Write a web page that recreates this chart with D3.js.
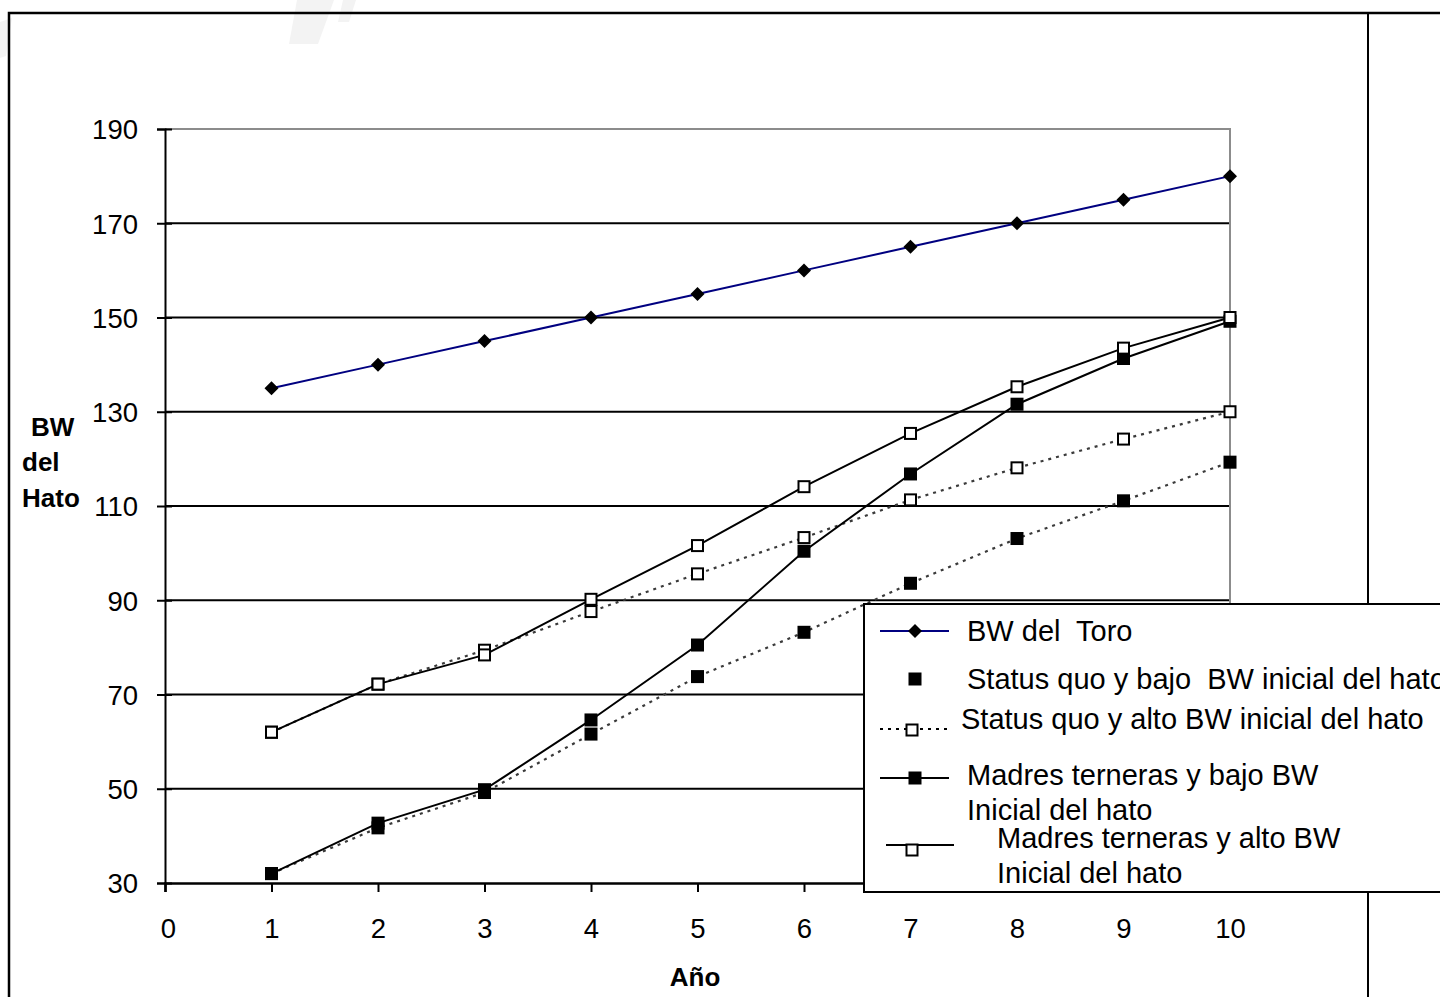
<!DOCTYPE html>
<html>
<head>
<meta charset="utf-8">
<script src="https://cdn.jsdelivr.net/npm/d3@7"></script>
<style>
  html, body { margin: 0; padding: 0; background: #fff; }
  svg text { font-family: "Liberation Sans", Arial, sans-serif; fill: #000; white-space: pre; }
</style>
</head>
<body>
<div id="chart"></div>
<script>
// data
const years = [1, 2, 3, 4, 5, 6, 7, 8, 9, 10];
const bwToro = [135, 140, 145, 150, 155, 160, 165, 170, 175, 180];
const sqBajo = [32, 41.7, 49.2, 61.6, 73.8, 83.2, 93.6, 103.1, 111.1, 119.3];
const sqAlto = [62, 72.2, 79.4, 87.6, 95.6, 103.3, 111.3, 118.1, 124.2, 130];
const madBajo = [32, 42.7, 49.8, 64.6, 80.5, 100.4, 116.8, 131.6, 141.3, 149.2];
const madAlto = [62, 72.2, 78.4, 90.2, 101.6, 114.1, 125.4, 135.3, 143.5, 150];
const xTicks = [0, 1, 2, 3, 4, 5, 6, 7, 8, 9, 10];
const yTicks = [30, 50, 70, 90, 110, 130, 150, 170, 190];
const gridValues = [50, 70, 90, 110, 130, 150, 170];

const series = [
    {name: 'Status quo y bajo  BW inicial del hato', values: sqBajo, marker: 'filled', line: 'dotted'},
    {name: 'Status quo y alto BW inicial del hato', values: sqAlto, marker: 'open', line: 'dotted'},
    {name: 'Madres terneras y bajo BW', values: madBajo, marker: 'filled', line: 'solid'},
    {name: 'Madres terneras y alto BW', values: madAlto, marker: 'open', line: 'solid'},
    {name: 'BW del  Toro', values: bwToro, marker: 'diamond', line: 'navy'}
];

const W = 1440, H = 997;
const plot = {left: 165, right: 1230, top: 129, bottom: 883};

const svg = d3.select('#chart').append('svg')
    .attr('width', W)
    .attr('height', H);

// faint watermark strokes
const wm = svg.append('g').attr('fill', '#f3f3f3');
wm.append('path').attr('d', 'M297,0 L334,0 L318,44 L289,44 Z');
wm.append('path').attr('d', 'M343,0 L356,0 L349,22 L338,22 Z');
wm.append('path').attr('d', 'M0,22 L12,18 L6,56 L0,58 Z');

// outer frame
svg.append('path')
    .attr('d', `M9,${H + 5} L9,13 L${W + 5},13`)
    .attr('fill', 'none')
    .attr('stroke', '#000')
    .attr('stroke-width', 2.5);
svg.append('line')
    .attr('x1', 1368).attr('x2', 1368)
    .attr('y1', 13).attr('y2', H)
    .attr('stroke', '#000')
    .attr('stroke-width', 2);

const x = d3.scaleLinear()
    .domain([0, 10])
    .range([plot.left, plot.right]);

const y = d3.scaleLinear()
    .domain([30, 190])
    .range([plot.bottom, plot.top]);

// grid
svg.append('g')
    .selectAll('line')
    .data(gridValues)
    .enter().append('line')
    .attr('x1', plot.left).attr('x2', plot.right)
    .attr('y1', d => y(d)).attr('y2', d => y(d))
    .attr('stroke', '#000')
    .attr('stroke-width', 2);

// gray plot border top/right
svg.append('path')
    .attr('d', `M${plot.left},${y(190)} L${x(10)},${y(190)} L${x(10)},${y(30)}`)
    .attr('fill', 'none')
    .attr('stroke', '#8c8c8c')
    .attr('stroke-width', 2);

// y axis
const yAxis = svg.append('g')
    .attr('transform', `translate(${plot.left},0)`)
    .call(d3.axisLeft(y).tickValues(yTicks).tickSize(8).tickPadding(19));
yAxis.select('.domain').attr('stroke', '#000').attr('stroke-width', 2);
yAxis.selectAll('.tick line').attr('stroke', '#000').attr('stroke-width', 2).attr('x2', 7).attr('x1', -8);
yAxis.selectAll('.tick text')
    .style('font-family', '"Liberation Sans", Arial, sans-serif')
    .style('font-size', '27.5px')
    .attr('dy', '0.36em');

// x axis
const xAxis = svg.append('g')
    .attr('transform', `translate(0,${plot.bottom})`)
    .call(d3.axisBottom(x).tickValues(xTicks).tickSize(9).tickPadding(26).tickFormat(d3.format('d')));
xAxis.select('.domain').attr('stroke', '#000').attr('stroke-width', 2.5);
xAxis.selectAll('.tick line').attr('stroke', '#000').attr('stroke-width', 2);
xAxis.selectAll('.tick text')
    .style('font-family', '"Liberation Sans", Arial, sans-serif')
    .style('font-size', '27.5px');
xAxis.selectAll('.tick').filter(d => d === 0).select('text').attr('x', 3);

// axis titles
svg.append('text')
    .attr('x', 695).attr('y', 986)
    .attr('text-anchor', 'middle')
    .style('font-size', '26px')
    .style('font-weight', 'bold')
    .text('Año');

const yTitle = svg.append('text')
    .style('font-size', '26px')
    .style('font-weight', 'bold');
yTitle.append('tspan').attr('x', 31).attr('y', 436).text('BW');
yTitle.append('tspan').attr('x', 22).attr('y', 471).text('del');
yTitle.append('tspan').attr('x', 22).attr('y', 507).text('Hato');

// series
const line = d3.line()
    .x((d, i) => x(years[i]))
    .y(d => y(d));

const lineStyle = {
    dotted: {stroke: '#3a3a3a', width: 2.2, dash: '3,5'},
    solid: {stroke: '#000', width: 2, dash: null},
    navy: {stroke: '#000080', width: 2, dash: null}
};

function drawMarker(g, kind, cx, cy) {
    if (kind === 'diamond') {
        g.append('path')
            .attr('d', `M${cx},${cy - 7} L${cx + 7},${cy} L${cx},${cy + 7} L${cx - 7},${cy} Z`)
            .attr('fill', '#000');
    } else if (kind === 'filled') {
        g.append('rect')
            .attr('x', cx - 6.5).attr('y', cy - 6.5)
            .attr('width', 13).attr('height', 13)
            .attr('fill', '#000');
    } else {
        g.append('rect')
            .attr('x', cx - 5.5).attr('y', cy - 5.5)
            .attr('width', 11).attr('height', 11)
            .attr('fill', '#fff')
            .attr('stroke', '#000')
            .attr('stroke-width', 2);
    }
}

series.forEach(s => {
    const st = lineStyle[s.line];
    svg.append('path')
        .datum(s.values)
        .attr('fill', 'none')
        .attr('stroke', st.stroke)
        .attr('stroke-width', st.width)
        .attr('stroke-dasharray', st.dash)
        .attr('d', line);
});
series.forEach(s => {
    const g = svg.append('g');
    s.values.forEach((v, i) => drawMarker(g, s.marker, x(years[i]), y(v)));
});

// legend
const legend = svg.append('g');
legend.append('rect')
    .attr('x', 864).attr('y', 604)
    .attr('width', 600).attr('height', 288)
    .attr('fill', '#fff')
    .attr('stroke', '#000')
    .attr('stroke-width', 2);

const legendItems = [
    {s: series[4], ly: 631, lx1: 880, lx2: 949, mx: 915, my: 631, tx: 967, lines: [['BW del  Toro', 641]]},
    {s: series[0], ly: null, lx1: 0, lx2: 0, mx: 915, my: 679, tx: 967, lines: [['Status quo y bajo  BW inicial del hato', 689]]},
    {s: series[1], ly: 729, lx1: 880, lx2: 948, mx: 912, my: 730, tx: 961, lines: [['Status quo y alto BW inicial del hato', 729]]},
    {s: series[2], ly: 778, lx1: 880, lx2: 949, mx: 915, my: 778, tx: 967, lines: [['Madres terneras y bajo BW', 785], ['Inicial del hato', 820]]},
    {s: series[3], ly: 845, lx1: 886, lx2: 954, mx: 912, my: 850, tx: 997, lines: [['Madres terneras y alto BW', 848], ['Inicial del hato', 883]]}
];

legendItems.forEach(it => {
    const st = lineStyle[it.s.line];
    if (it.ly !== null) {
        legend.append('line')
            .attr('x1', it.lx1).attr('x2', it.lx2)
            .attr('y1', it.ly).attr('y2', it.ly)
            .attr('stroke', it.s.line === 'dotted' ? '#000' : st.stroke)
            .attr('stroke-width', st.width)
            .attr('stroke-dasharray', st.dash);
    }
    drawMarker(legend, it.s.marker, it.mx, it.my);
    it.lines.forEach(l => {
        legend.append('text')
            .attr('x', it.tx).attr('y', l[1])
            .style('font-size', '29px')
            .text(l[0]);
    });
});
</script>
</body>
</html>
